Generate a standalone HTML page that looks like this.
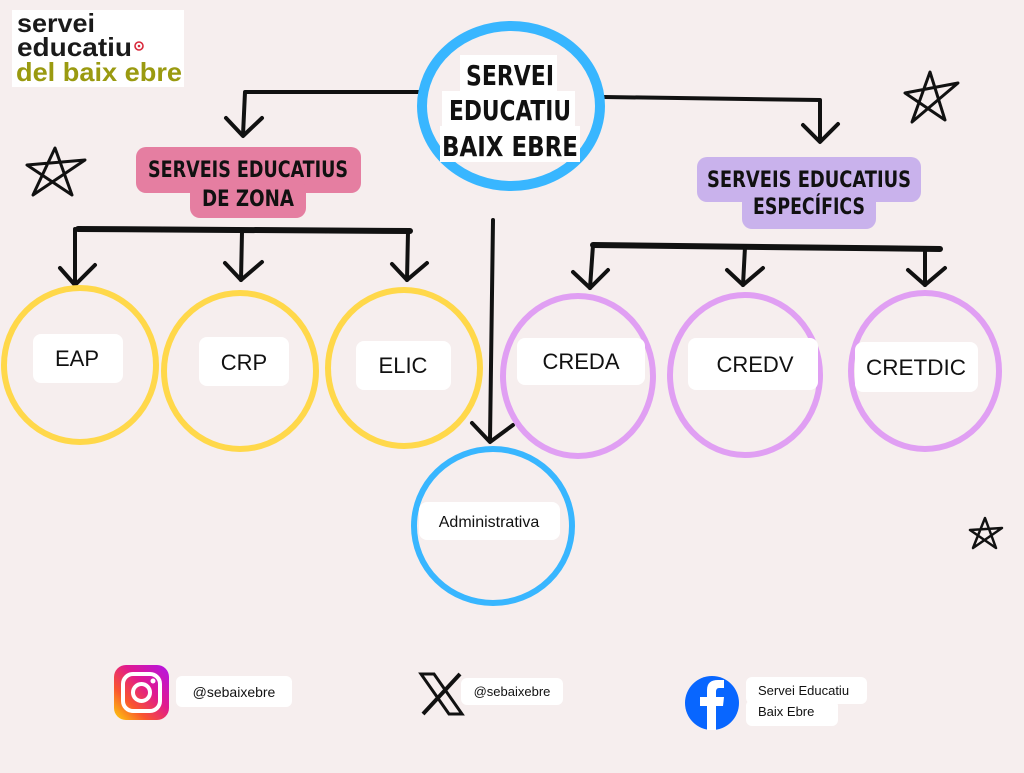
<!DOCTYPE html>
<html><head><meta charset="utf-8"><style>
body{margin:0;width:1024px;height:768px;background:#f6eeee;overflow:hidden;font-family:"Liberation Sans",sans-serif}
</style></head><body>
<svg width="1024" height="768" viewBox="0 0 1024 768" xmlns="http://www.w3.org/2000/svg">
<rect width="1024" height="768" fill="#f6eeee"/>
<rect x="12" y="10" width="172" height="77" fill="#fff"/>
<g font-family="Liberation Sans, sans-serif" font-weight="bold" font-size="26">
<text x="17" y="32" fill="#1a1a1a" textLength="78" lengthAdjust="spacingAndGlyphs">servei</text>
<text x="17" y="56" fill="#1a1a1a" textLength="115" lengthAdjust="spacingAndGlyphs">educatiu</text>
<text x="16" y="81" fill="#9a9a10" textLength="166" lengthAdjust="spacingAndGlyphs">del baix ebre</text>
</g>
<circle cx="139" cy="46" r="4" fill="none" stroke="#d8283a" stroke-width="1.6"/><circle cx="139" cy="46" r="1.3" fill="#d8283a"/>

<g fill="none" stroke="#111" stroke-width="4" stroke-linecap="round" stroke-linejoin="round">
<path d="M420 92 L245 92 L243 135"/><path d="M226 118 L243 136 L262 118"/>
<path d="M604 97 L820 100 L820 140"/><path d="M803 125 L820 142 L838 124"/>
<path d="M493 220 L490 440"/><path d="M472 423 L490 442 L513 425"/>
<path d="M78 229 L410 231" stroke-width="6"/>
<path d="M75 229 L75 285"/><path d="M60 268 L75 285 L95 265"/>
<path d="M242 232 L241 280"/><path d="M225 263 L241 280 L262 262"/>
<path d="M408 232 L407 280"/><path d="M392 264 L407 280 L427 263"/>
<path d="M593 245 L940 249" stroke-width="6"/>
<path d="M593 245 L590 288"/><path d="M573 272 L590 288 L608 270"/>
<path d="M745 247 L743 285"/><path d="M727 270 L743 285 L763 268"/>
<path d="M925 249 L925 285"/><path d="M908 270 L925 285 L945 268"/>
<path d="M33 195 L55 148 L72 195 L27 165 L85 160 Z" stroke-width="3"/>
<path d="M912 122 L930 72 L945 120 L905 93 L958 83 Z" stroke-width="3"/>
<path d="M973 548 L985 518 L996 548 L970 530 L1002 528 Z" stroke-width="2.5"/>
</g>

<ellipse cx="511" cy="106" rx="89" ry="80" fill="none" stroke="#38b6ff" stroke-width="10"/>
<ellipse cx="80" cy="365" rx="76" ry="77" fill="none" stroke="#ffd84a" stroke-width="6"/>
<ellipse cx="240" cy="371" rx="76" ry="78" fill="none" stroke="#ffd84a" stroke-width="6"/>
<ellipse cx="404" cy="368" rx="76" ry="78" fill="none" stroke="#ffd84a" stroke-width="6"/>
<ellipse cx="578" cy="376" rx="75" ry="80" fill="none" stroke="#e09ff3" stroke-width="6"/>
<ellipse cx="745" cy="375" rx="75" ry="80" fill="none" stroke="#e09ff3" stroke-width="6"/>
<ellipse cx="925" cy="371" rx="74" ry="78" fill="none" stroke="#e09ff3" stroke-width="6"/>
<ellipse cx="493" cy="526" rx="79" ry="77" fill="none" stroke="#38b6ff" stroke-width="6"/>

<g fill="#fff">
<rect x="460" y="55" width="97" height="36"/><rect x="442" y="91" width="133" height="35"/><rect x="440" y="126" width="140" height="36"/>
</g>
<g font-family="DejaVu Sans Condensed, sans-serif" font-weight="bold" fill="#111" text-anchor="middle" font-size="28">
<text x="510" y="85" textLength="88" lengthAdjust="spacingAndGlyphs">SERVEI</text>
<text x="510" y="120" textLength="122" lengthAdjust="spacingAndGlyphs">EDUCATIU</text>
<text x="510" y="156" textLength="136" lengthAdjust="spacingAndGlyphs">BAIX EBRE</text>
</g>
<rect x="136" y="147" width="225" height="46" rx="10" fill="#e57ea1"/>
<rect x="190" y="180" width="116" height="38" rx="10" fill="#e57ea1"/>
<rect x="697" y="157" width="224" height="45" rx="10" fill="#c9b2ec"/>
<rect x="742" y="190" width="134" height="39" rx="10" fill="#c9b2ec"/>
<g font-family="DejaVu Sans Condensed, sans-serif" fill="#111" text-anchor="middle" font-size="22" font-weight="bold">
<text x="248" y="177" textLength="200" lengthAdjust="spacingAndGlyphs">SERVEIS EDUCATIUS</text>
<text x="248" y="206" textLength="92" lengthAdjust="spacingAndGlyphs">DE ZONA</text>
<text x="809" y="187" textLength="204" lengthAdjust="spacingAndGlyphs">SERVEIS EDUCATIUS</text>
<text x="809" y="214" textLength="112" lengthAdjust="spacingAndGlyphs">ESPECÍFICS</text>
</g>

<g fill="#fff">
<rect x="33" y="334" width="90" height="49" rx="8"/>
<rect x="199" y="337" width="90" height="49" rx="8"/>
<rect x="356" y="341" width="95" height="49" rx="8"/>
<rect x="517" y="338" width="128" height="47" rx="8"/>
<rect x="688" y="338" width="130" height="52" rx="8"/>
<rect x="855" y="342" width="123" height="50" rx="8"/>
<rect x="419" y="502" width="141" height="38" rx="8"/>
</g>
<g font-family="Liberation Sans, sans-serif" fill="#111" text-anchor="middle" font-size="22">
<text x="77" y="366">EAP</text>
<text x="244" y="370">CRP</text>
<text x="403" y="373">ELIC</text>
<text x="581" y="369">CREDA</text>
<text x="755" y="372">CREDV</text>
<text x="916" y="375" textLength="100" lengthAdjust="spacingAndGlyphs">CRETDIC</text>
<text x="489" y="527" font-size="16">Administrativa</text>
</g>

<defs><linearGradient id="ig" x1="0" y1="1" x2="1" y2="0"><stop offset="0" stop-color="#fdd20a"/><stop offset="0.3" stop-color="#f9552f"/><stop offset="0.6" stop-color="#e0198f"/><stop offset="1" stop-color="#b314e8"/></linearGradient></defs>
<rect x="114" y="665" width="55" height="55" rx="12" fill="url(#ig)"/>
<rect x="123" y="674" width="37" height="37" rx="10" fill="none" stroke="#fff" stroke-width="4"/>
<circle cx="141.5" cy="692.5" r="8.5" fill="none" stroke="#fff" stroke-width="4"/>
<circle cx="153" cy="681" r="2.5" fill="#fff"/>
<rect x="176" y="676" width="116" height="31" rx="6" fill="#fff"/>
<text x="234" y="697" text-anchor="middle" font-size="14" fill="#111" font-family="Liberation Sans, sans-serif">@sebaixebre</text>
<g stroke="#111" fill="none">
<path d="M421 674 L449 714 L462 714 L434 674 Z" stroke-width="3"/>
<path d="M460 674 L423 714" stroke-width="4"/>
</g>
<rect x="461" y="678" width="102" height="27" rx="6" fill="#fff"/>
<text x="512" y="696" text-anchor="middle" font-size="13" fill="#111" font-family="Liberation Sans, sans-serif">@sebaixebre</text>
<circle cx="712" cy="703" r="27" fill="#0866ff"/>
<path d="M707 730 V706 H700 V697 H707 V690 Q707 680 718 680 H724 V688 H719 Q716 688 716 692 V697 H724 L723 706 H716 V730 Z" fill="#fff"/>
<rect x="746" y="677" width="121" height="27" rx="6" fill="#fff"/>
<rect x="746" y="700" width="92" height="26" rx="6" fill="#fff"/>
<g font-family="Liberation Sans, sans-serif" font-size="13" fill="#111">
<text x="758" y="695">Servei Educatiu</text>
<text x="758" y="716">Baix Ebre</text>
</g>
</svg>
</body></html>
